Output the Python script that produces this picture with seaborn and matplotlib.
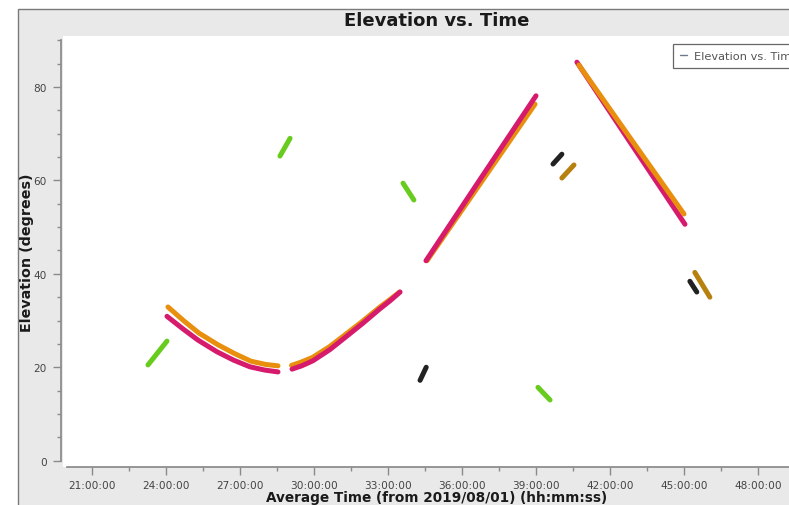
import matplotlib
matplotlib.use("Agg")
import matplotlib.pyplot as plt
import matplotlib.ticker as mticker
from matplotlib.lines import Line2D
from matplotlib.patches import Rectangle
import pandas as pd
import seaborn as sns

# Hours since 2019/08/01 00:00 and elevation (degrees) for each tracked pass
arc1_mag_t = [24.04, 24.69, 25.30, 26.07, 26.75, 27.40, 28.00, 28.54]
arc1_mag_el = [30.9, 28.2, 25.8, 23.3, 21.5, 20.1, 19.4, 19.0]
arc1_org_t = [24.08, 24.73, 25.34, 26.11, 26.79, 27.44, 28.04, 28.54]
arc1_org_el = [32.9, 29.9, 27.3, 24.8, 22.9, 21.3, 20.6, 20.3]

arc2_mag_t = [29.11, 29.50, 29.96, 30.65, 31.34, 32.00, 32.67, 33.10, 33.49]
arc2_mag_el = [19.6, 20.3, 21.4, 23.8, 26.7, 29.5, 32.5, 34.3, 36.1]
arc2_org_t = [29.09, 29.48, 29.94, 30.63, 31.32, 31.98, 32.65, 33.08, 33.47]
arc2_org_el = [20.4, 21.1, 22.1, 24.4, 27.2, 29.9, 32.8, 34.5, 36.1]

rise_mag_t = [34.54, 36.77, 39.00]
rise_mag_el = [42.8, 60.5, 78.1]
rise_org_t = [34.58, 36.78, 38.96]
rise_org_el = [42.8, 59.6, 76.3]

fall_mag_t = [40.66, 42.85, 45.04]
fall_mag_el = [85.3, 67.9, 50.6]
fall_org_t = [40.74, 42.87, 45.00]
fall_org_el = [84.7, 68.7, 52.8]

green1_t, green1_el = [23.27, 24.04], [20.5, 25.6]
green2_t, green2_el = [28.62, 29.03], [65.2, 69.0]
green3_t, green3_el = [33.61, 34.05], [59.4, 55.8]
green4_t, green4_el = [39.08, 39.57], [15.7, 13.0]
black1_t, black1_el = [34.30, 34.55], [17.2, 20.0]
black2_t, black2_el = [39.69, 40.05], [63.5, 65.6]
black3_t, black3_el = [45.24, 45.52], [38.4, 36.1]
gold1_t, gold1_el = [40.05, 40.54], [60.5, 63.3]
gold2_t, gold2_el = [45.44, 46.05], [40.3, 35.0]

MAGENTA = "#d61a6c"
ORANGE = "#e8900e"
GREEN = "#68cc1e"
BLACK = "#222222"
GOLD = "#b7810f"

tracks = [
    (arc1_org_t, arc1_org_el, ORANGE, 3),
    (arc1_mag_t, arc1_mag_el, MAGENTA, 4),
    (arc2_org_t, arc2_org_el, ORANGE, 3),
    (arc2_mag_t, arc2_mag_el, MAGENTA, 4),
    (rise_org_t, rise_org_el, ORANGE, 3),
    (rise_mag_t, rise_mag_el, MAGENTA, 4),
    (fall_mag_t, fall_mag_el, MAGENTA, 3),
    (fall_org_t, fall_org_el, ORANGE, 4),
    (green1_t, green1_el, GREEN, 3),
    (green2_t, green2_el, GREEN, 3),
    (green3_t, green3_el, GREEN, 3),
    (green4_t, green4_el, GREEN, 3),
    (black1_t, black1_el, BLACK, 3),
    (black2_t, black2_el, BLACK, 3),
    (black3_t, black3_el, BLACK, 3),
    (gold1_t, gold1_el, GOLD, 3),
    (gold2_t, gold2_el, GOLD, 3),
]

sns.set_theme(style="white")
plt.rcParams["font.family"] = ["DejaVu Sans"]

W, H = 789, 506
fig = plt.figure(figsize=(W / 100, H / 100), dpi=100, facecolor="white")

# light gray chart panel behind the plotting area
panel = Rectangle((18 / W, -0.1), 1.2, (H - 10) / H + 0.1, transform=fig.transFigure,
                  facecolor="#e9e9e9", edgecolor="#7a7a7a", linewidth=1.0, zorder=-10)
fig.add_artist(panel)

ax_left, ax_right, ax_top, ax_bottom = 63, 811, 37, 468
ax = fig.add_axes([ax_left / W, (H - ax_bottom) / H,
                   (ax_right - ax_left) / W, (ax_bottom - ax_top) / H])
ax.set_zorder(5)
ax.set_facecolor("white")

for t, el, color, z in tracks:
    df = pd.DataFrame({"t": t, "el": el})
    sns.lineplot(data=df, x="t", y="el", ax=ax, color=color, linewidth=3.6,
                 estimator=None, sort=False, solid_capstyle="round",
                 solid_joinstyle="round", zorder=z)

ax.set_xlim(19.824, 50.15)
ax.set_ylim(-1.35, 90.9)

def hms(x, pos):
    total = int(round(x * 60))
    return f"{total // 60:02d}:{total % 60:02d}:00"

ax.xaxis.set_major_locator(mticker.FixedLocator([21, 24, 27, 30, 33, 36, 39, 42, 45, 48]))
ax.xaxis.set_minor_locator(mticker.FixedLocator([19.5 + 3 * i for i in range(11)]))
ax.xaxis.set_major_formatter(mticker.FuncFormatter(hms))
ax.yaxis.set_major_locator(mticker.MultipleLocator(20))
ax.yaxis.set_minor_locator(mticker.MultipleLocator(5))

ax.tick_params(axis="both", which="major", direction="out", length=6, width=1,
               color="#8a8a8a", labelsize=7.6, labelcolor="#444444", pad=4,
               bottom=True, left=True)
ax.tick_params(axis="x", which="major", pad=3.5)
ax.tick_params(axis="both", which="minor", direction="out", length=3, width=1,
               color="#8a8a8a", bottom=True, left=True)

for side in ["top", "right"]:
    ax.spines[side].set_visible(False)
ax.spines["left"].set_color("#8a8a8a")
ax.spines["bottom"].set_color("#8a8a8a")
ax.spines["left"].set_position(("outward", 1.5))
ax.spines["left"].set_bounds(0, 90)
ax.spines["bottom"].set_bounds(19.98, 50.15)

ax.set_title("Elevation vs. Time", fontsize=13, fontweight="bold", color="#1a1a1a", pad=8)
ax.set_xlabel("Average Time (from 2019/08/01) (hh:mm:ss)", fontsize=9.8,
              fontweight="bold", color="#1a1a1a")
ax.xaxis.set_label_coords(0.5, -(505 - ax_bottom) / (ax_bottom - ax_top))
ax.xaxis.label.set_va("bottom")
ax.set_ylabel("Elevation (degrees)", fontsize=10.3, fontweight="bold", color="#1a1a1a")
ax.yaxis.set_label_coords(-(ax_left - 27) / (ax_right - ax_left), 0.5)
ax.yaxis.label.set_va("center")

handle = Line2D([0], [0], color="#6d7a8c", linewidth=1.0)
leg = ax.legend([handle], ["Elevation vs. Time"], loc="upper left",
                bbox_to_anchor=((673 - ax_left) / (ax_right - ax_left),
                                (ax_bottom - 45) / (ax_bottom - ax_top)),
                fontsize=8.2, frameon=True, fancybox=False, framealpha=1,
                edgecolor="#666666", handlelength=0.6, handletextpad=0.6,
                borderpad=0.6, borderaxespad=0)
leg.get_frame().set_linewidth(0.9)
for txt in leg.get_texts():
    txt.set_color("#555555")

fig.savefig("out.png", dpi=100, facecolor="white")
